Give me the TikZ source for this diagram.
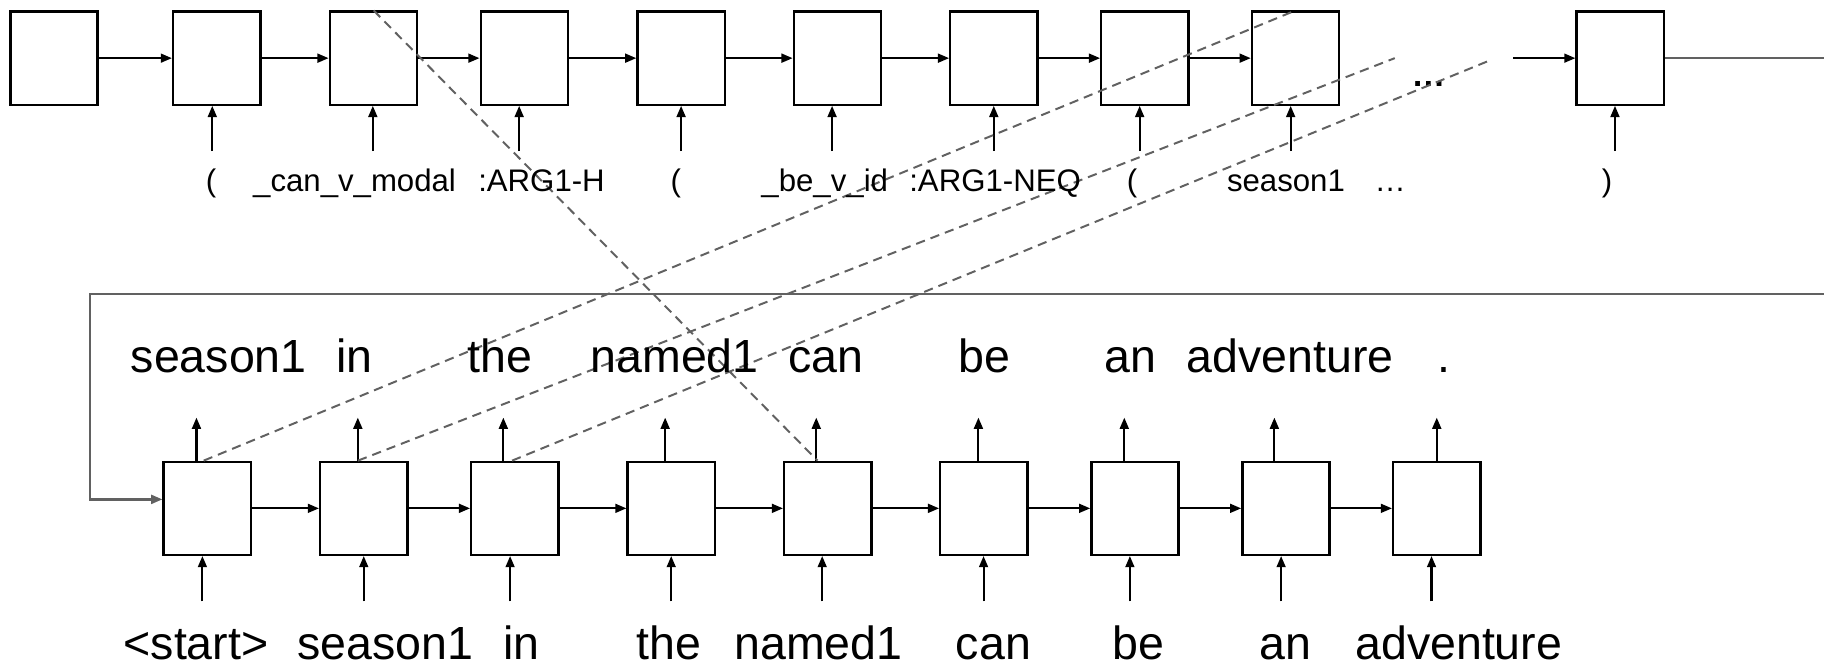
\documentclass[tikz,border=0pt]{standalone}
\usepackage{fontspec}
\setmainfont{Liberation Sans}
\usetikzlibrary{arrows.meta,calc}
\begin{document}
\begin{tikzpicture}[x=0.5pt,y=-0.5pt,
  cell/.style={draw,line width=1pt,minimum width=37.5pt,minimum height=40pt,inner sep=0pt},
  tip/.style={-{Triangle[length=4.8pt,width=3.8pt]}},
  flow/.style={tip,line width=0.9pt},
  link/.style={draw=black!62,line width=0.85pt,dash pattern=on 4pt off 2.6pt},
  loopline/.style={draw=black!62,line width=1pt},
  tok/.style={font=\fontsize{13.4pt}{16pt}\selectfont,anchor=base,inner sep=0pt},
  word/.style={font=\fontsize{20pt}{24pt}\selectfont,anchor=base,inner sep=0pt}]

\useasboundingbox (0,0) rectangle (1568,576);

% encoder cells (top row)
\foreach \i/\x in {1/46.4,2/186.3,3/321,4/450.7,5/585.5,6/719.9,7/854.4,8/984.2,9/1113.7,10/1392.8}
  \node[cell] (t\i) at (\x,50) {};

% decoder cells (bottom row)
\foreach \i/\x in {1/178.1,2/312.7,3/442.6,4/577,5/711.6,6/845.8,7/975.7,8/1105.5,9/1235.1}
  \node[cell] (b\i) at (\x,437) {};

% recurrent connections
\foreach \i/\j in {1/2,2/3,3/4,4/5,5/6,6/7,7/8,8/9}
  \draw[flow] (t\i) -- (t\j);
\coordinate (tgap) at (1301,50);
\draw[flow] (tgap) -- (t10);
\foreach \i/\j in {1/2,2/3,3/4,4/5,5/6,6/7,7/8,8/9}
  \draw[flow] (b\i) -- (b\j);

% encoder inputs
\foreach \i/\d in {2/-3.8,3/-0.5,4/-4.4,5/0,6/-4.6,7/-0.1,8/-4.5,9/-4.2,10/-4.5} {
  \coordinate (ti\i) at ($(t\i.south)+(\d,39)$);
  \draw[flow] (ti\i) -- (ti\i |- t\i.south);
}

% decoder inputs
\foreach \i/\d in {1/-4.1,2/0,3/-4.1,4/0,5/-4.8,6/-0.3,7/-4.4,8/-4.2,9/-4.5} {
  \coordinate (bi\i) at ($(b\i.south)+(\d,39)$);
  \draw[flow] (bi\i) -- (bi\i |- b\i.south);
}

% decoder outputs
\foreach \i/\d in {1/-9.2,2/-5.1,3/-9.9,4/-5.2,5/-9.9,6/-4.7,7/-9.2,8/-10,9/0} {
  \coordinate (bo\i) at ($(b\i.north)+(\d,-37)$);
  \draw[flow] (bo\i |- b\i.north) -- (bo\i);
}

% encoder state handed over to the decoder
\coordinate (outR) at (1568,50);
\draw[loopline] (t10.east) -- (outR);
\coordinate (fbR) at (1568,252.7);
\coordinate (fbL) at (77.6,252.7);
\coordinate (fbIn) at ($(b1.west)+(0,-7.7)$);
\draw[loopline,tip] (fbR) -- (fbL) -- (fbL |- fbIn) -- (fbIn);

\node[font=\fontsize{14.5pt}{17pt}\selectfont\bfseries,anchor=base,inner sep=0pt] (tdots) at (1228,74) {…};

% attention links
\coordinate (d3) at (1199,50);
\coordinate (d4) at (1283,51);
\draw[link] ($(t3.north)+(0.2,0)$) -- ($(b5.north)+(-8.8,0)$);
\draw[link] ($(b1.north)+(-3,0)$) -- (t9.north);
\draw[link] ($(b2.north)+(-5,0)$) -- (d3);
\draw[link] ($(b3.north)+(-2.4,0)$) -- (d4);

% linearised graph tokens
\foreach \n/\x/\t in {l1/181.4/(, l2/304.8/\_can\_v\_modal, l3/465.5/:ARG1-H, l4/581/(,
  l5/709/\_be\_v\_id, l6/855.4/:ARG1-NEQ, l7/973.1/(, l8/1105.5/season1, l9/1195/…, l10/1381.5/)}
  \node[tok] (\n) at (\x,165) {\t};

% generated words
\foreach \n/\x/\t in {o1/188/season1, o2/304.5/in, o3/430/the, o4/580/named1, o5/710/can,
  o6/846/be, o7/971.5/an, o8/1109/adventure, o9/1241/.}
  \node[word] (\n) at (\x,320) {\t};

% decoder input words
\foreach \n/\x/\t in {w1/168.5/<start>, w2/331.5/season1, w3/448.5/in, w4/575/the, w5/703.5/named1,
  w6/854/can, w7/979/be, w8/1105/an, w9/1254/adventure}
  \node[word] (\n) at (\x,567) {\t};
\end{tikzpicture}
\end{document}
